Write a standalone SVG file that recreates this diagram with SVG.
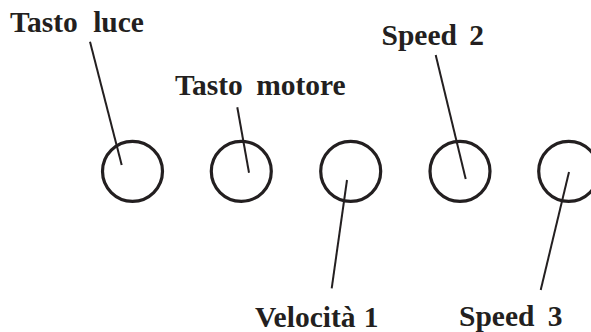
<svg xmlns="http://www.w3.org/2000/svg" width="591" height="332" viewBox="0 0 591 332">
<style>
.btn{fill:none;stroke:#231f20;stroke-width:3.2}
.ln{stroke:#231f20;stroke-width:2;fill:none}
.lbl{font-family:"Liberation Serif","Times New Roman",serif;font-weight:bold;font-size:29.5px;fill:#231f20;word-spacing:5px}
</style>
<rect width="591" height="332" fill="#fff"/>
<g id="btn1"><circle class="btn" cx="132.5" cy="171.3" r="30"/></g>
<g id="btn2"><circle class="btn" cx="241.3" cy="171.3" r="30"/></g>
<g id="btn3"><circle class="btn" cx="350.7" cy="171.3" r="30"/></g>
<g id="btn4"><circle class="btn" cx="460" cy="171.3" r="30"/></g>
<g id="btn5"><circle class="btn" cx="568.7" cy="171.3" r="30"/></g>
<g id="labels">
<text id="t1" class="lbl" x="10" y="32" style="word-spacing:8px">Tasto luce</text>
<text id="t2" class="lbl" x="175" y="95" style="word-spacing:6px">Tasto motore</text>
<text id="t3" class="lbl" x="381.5" y="45" style="word-spacing:5px">Speed 2</text>
<text id="t4" class="lbl" x="255" y="327" style="word-spacing:1px">Velocità 1</text>
<text id="t5" class="lbl" x="459" y="326" style="word-spacing:6px">Speed 3</text>
</g>
<g id="connectors">
<line class="ln" x1="90" y1="41.7" x2="121.7" y2="165"/>
<line class="ln" x1="237.3" y1="107.3" x2="249" y2="172.7"/>
<line class="ln" x1="347" y1="180" x2="331.7" y2="288.3"/>
<line class="ln" x1="435.7" y1="55" x2="465.7" y2="179"/>
<line class="ln" x1="569" y1="172" x2="540.7" y2="290"/>
</g>
</svg>
